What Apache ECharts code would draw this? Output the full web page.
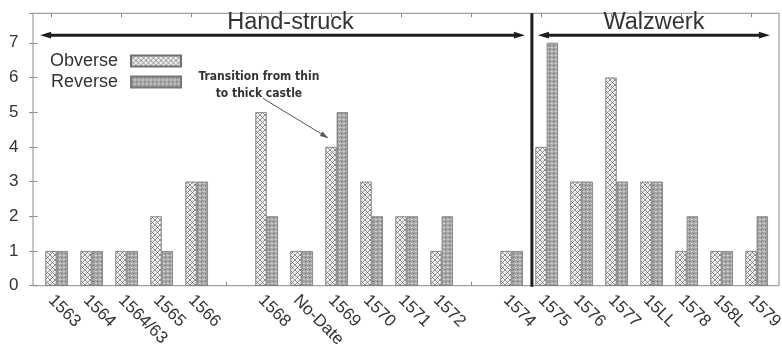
<!DOCTYPE html>
<html><head><meta charset="utf-8">
<script src="https://cdn.jsdelivr.net/npm/echarts@6/dist/echarts.min.js"></script>
<style>html,body{margin:0;padding:0;background:#fff}#chart{width:782px;height:344px}</style>
</head><body><div id="chart"></div>
<script>
// Coin counts per year, split by minting technique
const categories = ['1563','1564','1564/63','1565','1566','','1568','No-Date','1569','1570','1571','1572','','1574','1575','1576','1577','15LL','1578','158L','1579'];
const obverse = [1,1,1,2,3,'-',5,1,4,3,2,1,'-',1,4,3,6,3,1,1,1];
const reverse = [1,1,1,1,3,'-',2,1,5,2,2,2,'-',1,7,3,3,3,2,1,2];
const yTickLabels = ['0','1','2','3','4','5','6','7'];
const periodLabels = ['Hand-struck', 'Walzwerk'];
const noteLines = ['Transition from thin', 'to thick castle'];

const FONT = '"Liberation Sans", Arial, sans-serif';
const TEXT = '#333';

// Pixel tile fills for the two bar series
function tile(size, bg, pixels) {
  const c = document.createElement('canvas');
  c.width = size; c.height = size;
  const g = c.getContext('2d');
  g.fillStyle = bg; g.fillRect(0, 0, size, size);
  pixels.forEach(([x, y, col]) => { g.fillStyle = col; g.fillRect(x, y, 1, 1); });
  return c;
}
const hatch = '#8e8e8e';
const crossHatch = tile(5, '#f7f7f7', [
  [0,0,hatch],[1,1,hatch],[2,2,'#6a6a6a'],[3,3,hatch],[4,4,hatch],
  [4,0,hatch],[3,1,hatch],[1,3,hatch],[0,4,hatch],
  [2,0,'#d0d0d0'],[0,2,'#d0d0d0']
]);
const dotted = tile(4, '#a8a8a8', [
  [1,1,'#686868'],[3,3,'#d8d8d8'],[0,3,'#d0d0d0'],[2,0,'#999']
]);

const chart = echarts.init(document.getElementById('chart'), null, { renderer: 'canvas' });

const barBase = { type: 'bar', barWidth: 11.3, barGap: '0%', xAxisIndex: 0, yAxisIndex: 0, animation: false };

chart.setOption({
  animation: false,
  backgroundColor: '#fff',
  textStyle: { fontFamily: FONT },
  grid: [
    { left: 33.5, top: 13.3, width: 735, height: 272.4, outerBoundsMode: 'none', containLabel: false },
    { left: 33, top: 13.3, width: 746, height: 272.4, outerBoundsMode: 'none', containLabel: false,
      show: true, borderColor: '#8a8a8a', borderWidth: 1, backgroundColor: 'transparent' }
  ],
  legend: {
    data: ['Obverse', 'Reverse'],
    orient: 'vertical', left: 45, top: 47, align: 'right', icon: 'rect',
    itemWidth: 50, itemHeight: 11, itemGap: 3,
    textStyle: { fontSize: 18, color: TEXT, fontFamily: FONT, padding: [0, 8, 0, 0] }
  },
  xAxis: [
    { type: 'category', gridIndex: 0, data: categories, position: 'bottom',
      axisLine: { show: false },
      axisTick: { show: true, inside: true, alignWithLabel: true, length: 4, lineStyle: { color: '#8a8a8a' } },
      axisLabel: { rotate: -45, fontSize: 17, color: TEXT, margin: 12, interval: 0, fontFamily: FONT } },
    { type: 'category', gridIndex: 0, data: categories, position: 'top',
      axisLine: { show: false },
      axisTick: { show: true, inside: true, alignWithLabel: true, length: 4, lineStyle: { color: '#8a8a8a' } },
      axisLabel: { show: false } },
    { type: 'value', gridIndex: 1, show: false, min: 0, max: 1 }
  ],
  yAxis: [
    { type: 'value', gridIndex: 0, min: 0, max: 7.85, interval: 1,
      axisLine: { show: false }, splitLine: { show: false },
      axisTick: { show: true, inside: true, length: 4, lineStyle: { color: '#8a8a8a' } },
      axisLabel: { fontSize: 17, color: TEXT, margin: 15, showMaxLabel: false, fontFamily: FONT,
        formatter: v => yTickLabels[v] !== undefined ? yTickLabels[v] : '' } },
    { type: 'value', gridIndex: 1, min: 0, max: 7.85, interval: 1, position: 'right',
      axisLine: { show: false }, splitLine: { show: false },
      axisTick: { show: true, inside: true, length: 4, lineStyle: { color: '#8a8a8a' } },
      axisLabel: { show: false } }
  ],
  series: [
    // empty spacer so each year's tick sits on the obverse bar
    Object.assign({}, barBase, { name: 'spacer', data: categories.map(() => '-'), silent: true }),
    Object.assign({}, barBase, { name: 'Obverse', data: obverse,
      itemStyle: { color: { image: crossHatch, repeat: 'repeat' }, borderColor: '#6f6f6f', borderWidth: 0.8 } }),
    Object.assign({}, barBase, { name: 'Reverse', data: reverse,
      itemStyle: { color: { image: dotted, repeat: 'repeat' }, borderColor: '#777', borderWidth: 0.8 } })
  ]
});

// Period markers, divider and note placed through the axes
function px(idx, val) { return chart.convertToPixel({ xAxisIndex: 0, yAxisIndex: 0 }, [idx, val]); }
const slot = px(1, 0)[0] - px(0, 0)[0];
const x0 = px(0, 0)[0];
const xAt = i => x0 + i * slot;
const yAt = v => px(0, v)[1];
const yTop = yAt(7.85), yBase = yAt(0);
const dividerX = xAt(13.74);
const arrowY = yAt(7.22);
const ink = '#1e1e1e';

function doubleArrow(xa, xb, y) {
  const h = 11, w = 3.4;
  return [
    { type: 'line', shape: { x1: xa + 6, y1: y, x2: xb - 6, y2: y }, style: { stroke: ink, lineWidth: 3 } },
    { type: 'polygon', shape: { points: [[xa, y], [xa + h, y - w], [xa + h, y + w]] }, style: { fill: ink } },
    { type: 'polygon', shape: { points: [[xb, y], [xb - h, y - w], [xb - h, y + w]] }, style: { fill: ink } }
  ];
}

const hsL = xAt(-0.31), hsR = dividerX - 7;
const wzL = dividerX + 6, wzR = xAt(20.54);
const tip = px(8, 4);
const noteX = xAt(5.94);
const noteFont = 'bold 12px "Liberation Sans Narrow", "DejaVu Sans Condensed", ' + FONT;

const graphics = [].concat(
  [{ type: 'line', shape: { x1: dividerX, y1: yTop, x2: dividerX, y2: yBase + 1 }, style: { stroke: ink, lineWidth: 3 } }],
  doubleArrow(hsL, hsR, arrowY),
  doubleArrow(wzL, wzR, arrowY),
  [
    { type: 'text', x: (hsL + hsR) / 2 + 8, y: arrowY - 1, style: { text: periodLabels[0], font: '23.5px ' + FONT, fill: TEXT, align: 'center', verticalAlign: 'bottom' } },
    { type: 'text', x: (wzL + wzR) / 2, y: arrowY - 1, style: { text: periodLabels[1], font: '23.5px ' + FONT, fill: TEXT, align: 'center', verticalAlign: 'bottom' } },
    { type: 'text', x: noteX, y: yAt(6.01), style: { text: noteLines[0], font: noteFont, fill: TEXT, align: 'center', verticalAlign: 'middle' } },
    { type: 'text', x: noteX, y: yAt(5.52), style: { text: noteLines[1], font: noteFont, fill: TEXT, align: 'center', verticalAlign: 'middle' } },
    { type: 'line', shape: { x1: noteX + 4, y1: yAt(5.4), x2: tip[0] - 3, y2: tip[1] - 9 }, style: { stroke: '#555', lineWidth: 1 } }
  ]
);
// arrowhead of the note pointer
(function () {
  const ax = noteX + 4, ay = yAt(5.4), bx = tip[0] - 3, by = tip[1] - 9;
  const ang = Math.atan2(by - ay, bx - ax), L = 8, W = 2.6;
  const cx = bx - L * Math.cos(ang), cy = by - L * Math.sin(ang);
  const nx = -Math.sin(ang) * W, ny = Math.cos(ang) * W;
  graphics.push({ type: 'polygon', shape: { points: [[bx, by], [cx + nx, cy + ny], [cx - nx, cy - ny]] }, style: { fill: '#555' } });
})();

chart.setOption({ graphic: graphics });
</script>
</body></html>
